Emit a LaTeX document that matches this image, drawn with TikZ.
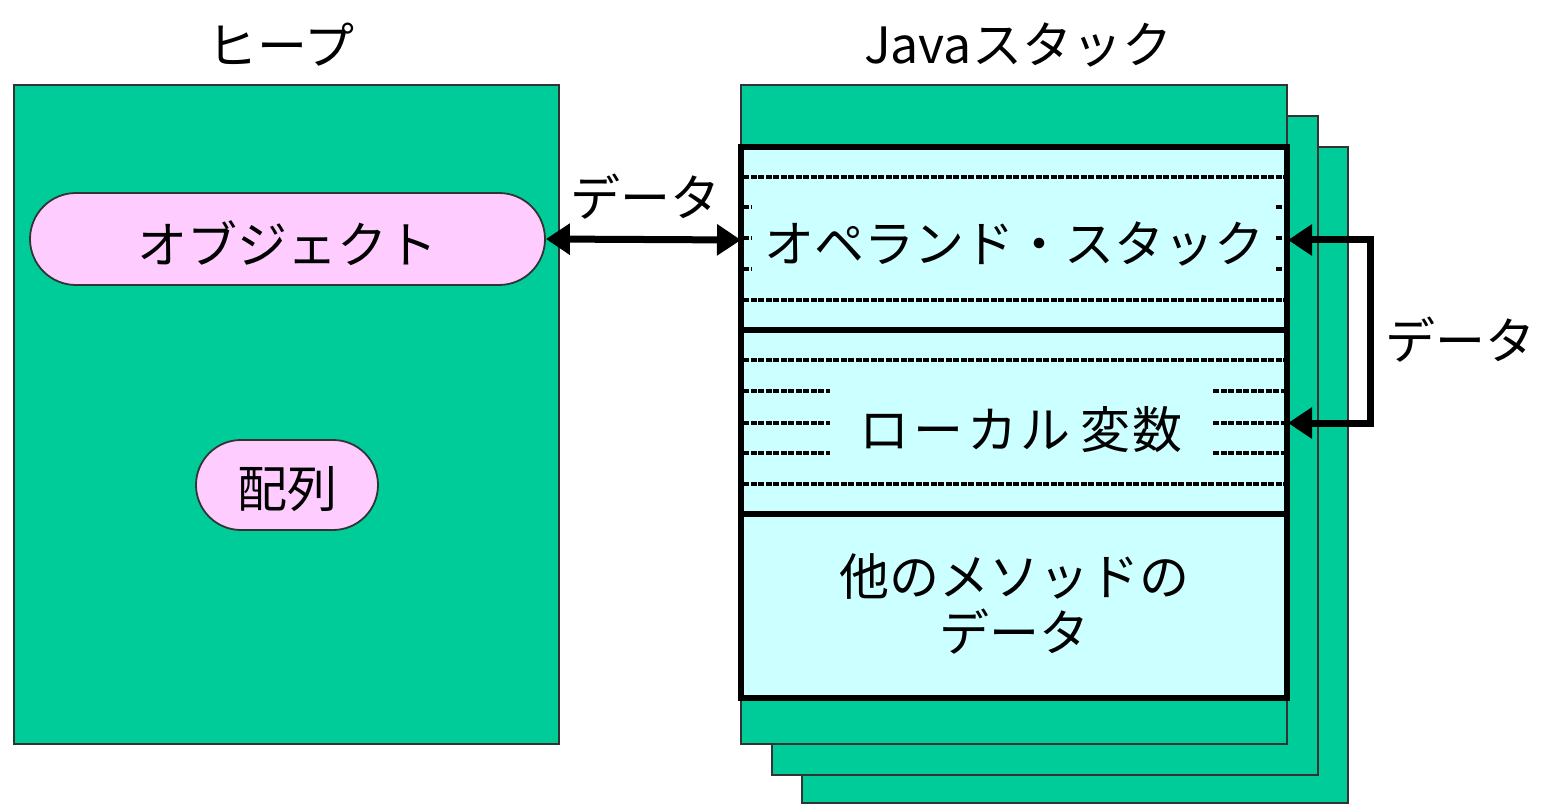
\documentclass[tikz,border=0pt]{standalone}
\usepackage{fontspec}
\setmainfont{Noto Sans CJK JP}
\usetikzlibrary{arrows.meta}
\definecolor{grn}{HTML}{00CC99}
\definecolor{cyn}{HTML}{CCFFFF}
\definecolor{pnk}{HTML}{FFCCFF}
\begin{document}
\begin{tikzpicture}[x=1pt,y=-1pt,
  frame/.style={fill=grn,draw=black!80,line width=2pt},
  sec/.style={draw=black,fill=cyn,line width=5.5pt,minimum width=546pt,inner sep=0pt},
  pill/.style={draw=black!80,fill=pnk,line width=1.8pt,inner sep=0pt},
  big/.style={font=\fontsize{50}{56}\selectfont},
  dline/.style={line width=3.5pt,dash pattern=on 6pt off 1.5pt},
  arr/.style={line width=7pt,-{Triangle[length=24pt,width=30pt]}},
  darr/.style={line width=7pt,{Triangle[length=24pt,width=30pt]}-{Triangle[length=24pt,width=30pt]}}]
\useasboundingbox (0,0) rectangle (1543,805);
% heap
\node[frame,minimum width=545pt,minimum height=659pt,inner sep=0pt] (heap) at (286.5,414.5) {};
\node[big] (heaplbl) at (281,45) {ヒープ};
\node[pill,minimum width=515pt,minimum height=92pt,rounded corners=46pt] (obj) at (287.5,239) {};
\node[big] (objtxt) at (287.5,243) {オブジェクト};
\node[pill,minimum width=182pt,minimum height=90pt,rounded corners=45pt] (arr) at (287,485) {};
\node[big] (arrtxt) at (287,489) {配列};
% stack frames
\node[frame,minimum width=546pt,minimum height=656pt,inner sep=0pt] (f3) at (1075,475) {};
\node[frame,minimum width=546pt,minimum height=659pt,inner sep=0pt] (f2) at (1045,445.5) {};
\node[frame,minimum width=546pt,minimum height=659pt,inner sep=0pt] (f1) at (1014,414.5) {};
\node[big] (stklbl) at (1018,45) {Javaスタック};
% sections
\node[sec,minimum height=183pt] (ops) at (1014,238.5) {};
\node[sec,minimum height=184pt] (loc) at (1014,422) {};
\node[sec,minimum height=184pt] (oth) at (1014,606) {};
% dashed lines operand
\draw[dline] (743,177) -- (1285,177);
\draw[dline] (743,300) -- (1285,300);
\foreach \yy in {207,238,269}{
  \draw[dline] (743,\yy) -- (752,\yy);
  \draw[dline] (1276,\yy) -- (1285,\yy);
}
% dashed lines local
\draw[dline] (743,360) -- (1285,360);
\draw[dline] (743,484) -- (1285,484);
\foreach \yy in {391,423,453}{
  \draw[dline] (743,\yy) -- (830,\yy);
  \draw[dline] (1213,\yy) -- (1285,\yy);
}
\node[big] (opstxt) at (1014,244) {オペランド・スタック};
\node[big] (loctxt) at (1021,430) {ロ\hspace{4pt}ー\hspace{4pt}カ\hspace{3pt}ル\hspace{10pt}変\hspace{2pt}数};
\node[big,align=center] (othtxt) at (1014,604) {他のメソッドの\\データ};
% arrows
\coordinate (opin) at (741,240);
\coordinate (opr) at (1288,240);
\coordinate (locr) at (1288,423);
\coordinate (bend1) at (1370,240);
\coordinate (bend2) at (1370,423);
\draw[darr] (obj.east) -- (opin);
\node[big] (d1) at (645,197) {データ};
\draw[line width=7pt] ([yshift=-3.5pt]bend1) -- ([yshift=3.5pt]bend2);
\draw[arr] ([xshift=3.5pt]bend1) -- (opr);
\draw[arr] ([xshift=3.5pt]bend2) -- (locr);
\node[big] (d2) at (1460,340) {データ};
\end{tikzpicture}
\end{document}
